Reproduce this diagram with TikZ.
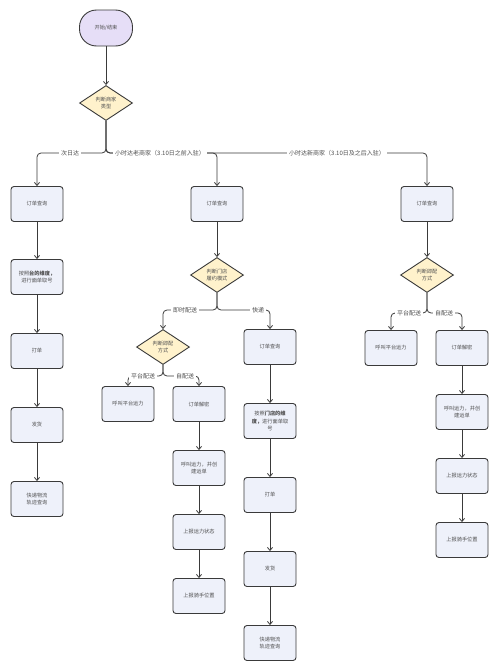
\documentclass[tikz,border=0pt]{standalone}
\usepackage{fontspec}
\setmainfont{Noto Sans CJK SC}
\usepackage{tikz}
\usetikzlibrary{shapes.geometric, arrows.meta}
\definecolor{kastenblau}{RGB}{238,241,250}
\definecolor{startlila}{RGB}{230,222,247}
\definecolor{rautegelb}{RGB}{255,242,204}
\definecolor{randgrau}{RGB}{58,58,58}
\definecolor{schriftgrau}{RGB}{80,80,80}
\tikzstyle{kasten} = [draw=randgrau, fill=kastenblau, rounded corners=3pt, line width=0.9pt, minimum width=52pt, minimum height=35pt, text width=46pt, align=center, inner sep=1pt, font=\fontsize{5.2}{7.5}\selectfont, text=schriftgrau]
\tikzstyle{raute} = [draw=randgrau, fill=rautegelb, diamond, aspect=1.5, line width=0.9pt, minimum width=53pt, minimum height=35pt, inner sep=0pt, align=center, font=\fontsize{5.2}{7.5}\selectfont, text=schriftgrau]
\tikzstyle{startknoten} = [draw=randgrau, fill=startlila, rounded corners=17pt, line width=0.9pt, minimum width=53pt, minimum height=36pt, font=\fontsize{5.2}{7}\selectfont, text=schriftgrau]
\tikzstyle{linie} = [draw=randgrau, line width=0.8pt, ->, rounded corners=4pt]
\tikzstyle{marke} = [fill=white, inner sep=2pt, font=\fontsize{6}{7}\selectfont, text=schriftgrau]

\begin{document}
\begin{tikzpicture}[x=1pt, y=-1pt,
			>={Straight Barb[length=3pt,width=5pt]}]
			\useasboundingbox (0,0) rectangle (500,672);
			% Start und erste Entscheidung
			\node[startknoten] (anfang) at (106,28) {开始/结束};
			\node[raute] (typ) at (106,103) {判断商家\\类型};
			% Spalte 1: 次日达
			\node[kasten] (a1) at (37,204) {订单查询};
			\node[kasten] (a2) at (37,277) {按照\textbf{台的维度，}\\进行面单取号};
			\node[kasten] (a3) at (37,351) {打单};
			\node[kasten] (a4) at (37,425) {发货};
			\node[kasten] (a5) at (37,499) {快递物流\\轨迹查询};
			% Spalte 2: alte Haendler
			\node[kasten] (b1) at (217,204) {订单查询};
			\node[raute] (b2) at (217,275) {判断门店\\履约模式};
			\node[raute] (b3) at (163,347) {判断即配\\方式};
			\node[kasten] (b4) at (128,404) {呼叫平台运力};
			\node[kasten] (b5) at (199,404) {订单解密};
			\node[kasten] (b6) at (199,468) {呼叫运力，并创\\建运单};
			\node[kasten] (b7) at (199,532) {上报运力状态};
			\node[kasten] (b8) at (199,596) {上报骑手位置};
			% Spalte 3: 快递
			\node[kasten] (c1) at (270,347) {订单查询};
			\node[kasten] (c2) at (270,421) {按照\textbf{门店的维}\\\textbf{度，}进行面单取\\号};
			\node[kasten] (c3) at (270,495) {打单};
			\node[kasten] (c4) at (270,569) {发货};
			\node[kasten] (c5) at (270,643) {快递物流\\轨迹查询};
			% Spalte 4: neue Haendler
			\node[kasten] (d1) at (427,204) {订单查询};
			\node[raute] (d2) at (427,275) {判断即配\\方式};
			\node[kasten] (d3) at (391,348) {呼叫平台运力};
			\node[kasten] (d4) at (462,348) {订单解密};
			\node[kasten] (d5) at (462,412) {呼叫运力，并创\\建运单};
			\node[kasten] (d6) at (462,476) {上报运力状态};
			\node[kasten] (d7) at (462,540) {上报骑手位置};
			% Verzweigungspunkte
			\coordinate (ast1) at (106,153);
			\coordinate (ast2) at (217,310);
			\coordinate (ast3) at (163,376);
			\coordinate (ast4) at (427,313);
			% gerade Pfeile
			\foreach \von/\nach in {anfang/typ, a1/a2, a2/a3, a3/a4, a4/a5, b1/b2, b5/b6, b6/b7, b7/b8, c1/c2, c2/c3, c3/c4, c4/c5, d1/d2, d4/d5, d5/d6, d6/d7} \draw[linie] (\von) -- (\nach);
			% Verzweigungen
			\foreach \wurzel/\ast/\ziel in {typ/ast1/a1, typ/ast1/b1, typ/ast1/d1, b2/ast2/b3, b2/ast2/c1, b3/ast3/b4, b3/ast3/b5, d2/ast4/d3, d2/ast4/d4} \draw[linie] (\wurzel.south) -- (\ast) -| (\ziel.north);
			% Beschriftung
			\node[marke] (m1) at (70,153) {次日达};
			\node[marke] (m2) at (160,153) {小时达老商家（3.10日之前入驻）};
			\node[marke] (m3) at (337,153) {小时达新商家（3.10日及之后入驻）};
			\node[marke] (m4) at (185,310) {即时配送};
			\node[marke] (m5) at (258,310) {快递};
			\node[marke] (m6) at (143,376) {平台配送};
			\node[marke] (m7) at (185,376) {自配送};
			\node[marke] (m8) at (409,313) {平台配送};
			\node[marke] (m9) at (444,313) {自配送};
		\end{tikzpicture}
\end{document}
